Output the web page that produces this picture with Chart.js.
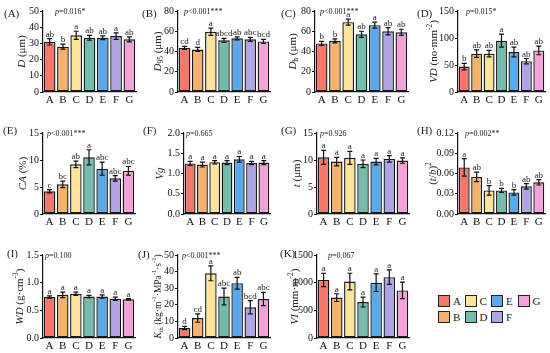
<!DOCTYPE html>
<html>
<head>
<meta charset="utf-8">
<script src="https://cdn.jsdelivr.net/npm/chart.js@4.4.1/dist/chart.umd.min.js"></script>
<style>
  body { margin: 0; background: #fff; width: 550px; height: 353px; position: relative; overflow: hidden; font-family: "Liberation Serif", serif; }
  canvas { position: absolute; }
  #legend { position: absolute; left: 438px; top: 295px; display: grid; grid-auto-flow: column;
            grid-template-rows: 12px 12px; row-gap: 4px; grid-template-columns: repeat(4, 26.5px); }
  .item { display: flex; align-items: center; font-size: 11px; color: #222; }
  .sw { box-sizing: border-box; width: 12px; height: 12px; border: 1.5px solid #222; margin-right: 3px; }
</style>
</head>
<body>
<div id="legend"></div>
<script>
const groups = ['A', 'B', 'C', 'D', 'E', 'F', 'G'];
const groupColors = ['#F4776B', '#F5B26C', '#FCE49C', '#72BDAB', '#5CA9E9', '#AFA4E4', '#F2A2D9'];

// (A) D
const dMean = [31, 28, 35, 33.5, 33.5, 34.5, 32.5];
const dErr = [2, 1.5, 2.5, 1.5, 1.2, 2, 1.5];
const dSig = ['ab', 'b', 'a', 'ab', 'ab', 'a', 'ab'];
// (B) D95
const d95Mean = [43.5, 42, 59.5, 51, 53, 52, 50];
const d95Err = [1.5, 2, 3.5, 2, 1.5, 2, 2];
const d95Sig = ['cd', 'd', 'a', 'abcd', 'ab', 'abc', 'bcd'];
// (C) Dh
const dhMean = [48, 50.5, 69, 57, 66, 60, 59];
const dhErr = [2, 2, 3, 3, 3, 3.5, 3];
const dhSig = ['b', 'b', 'a', 'ab', 'a', 'ab', 'ab'];
// (D) VD
const vdMean = [47, 71, 71, 95, 74, 57, 77];
const vdErr = [6, 7, 6, 12, 9, 5, 8];
const vdSig = ['b', 'ab', 'ab', 'a', 'ab', 'ab', 'ab'];
// (E) CA
const caMean = [4.2, 5.5, 9.2, 10.5, 8.4, 6.6, 8.0];
const caErr = [0.3, 0.6, 0.6, 1.4, 1.2, 0.5, 0.8];
const caSig = ['c', 'bc', 'ab', 'a', 'abc', 'abc', 'abc'];
// (F) Vg
const vgMean = [1.25, 1.22, 1.28, 1.27, 1.35, 1.26, 1.27];
const vgErr = [0.05, 0.06, 0.04, 0.05, 0.07, 0.04, 0.05];
const vgSig = ['a', 'a', 'a', 'a', 'a', 'a', 'a'];
// (G) t
const tMean = [10.5, 9.7, 10.4, 9.3, 9.7, 10.2, 9.9];
const tErr = [1.3, 0.8, 1.2, 0.7, 0.6, 0.6, 0.5];
const tSig = ['a', 'a', 'a', 'a', 'a', 'a', 'a'];
// (H) (t/b)^2
const tbMean = [0.069, 0.055, 0.035, 0.035, 0.032, 0.041, 0.047];
const tbErr = [0.013, 0.007, 0.007, 0.003, 0.004, 0.004, 0.004];
const tbSig = ['a', 'ab', 'b', 'b', 'b', 'ab', 'ab'];
// (I) WD
const wdMean = [0.74, 0.78, 0.80, 0.75, 0.75, 0.71, 0.70];
const wdErr = [0.02, 0.05, 0.03, 0.02, 0.03, 0.03, 0.01];
const wdSig = ['a', 'a', 'a', 'a', 'a', 'a', 'a'];
// (J) Kth
const kthMean = [6, 12, 39, 25, 33, 18.5, 23.5];
const kthErr = [1, 2.5, 4.5, 5, 3.5, 4, 4];
const kthSig = ['d', 'cd', 'a', 'abc', 'ab', 'bcd', 'abc'];
// (K) VI
const viMean = [1050, 730, 1020, 650, 1000, 1100, 860];
const viErr = [120, 70, 150, 90, 160, 130, 150];
const viSig = ['a', 'a', 'a', 'a', 'a', 'a', 'a'];

const pTexts = ['=0.016*', '<0.001***', '<0.001***', '=0.015*', '<0.001***', '=0.665',
                '=0.926', '=0.002**', '=0.100', '<0.001***', '=0.067'];

const panels = [
  { tag: '(A)', mean: dMean, err: dErr, sig: dSig, max: 50, step: 10, dec: 0,
    title: [['D', 'i'], [' (μm)']], L: 43, R: 136, T: 11, B: 92, titleDx: -21, tagDx: -39, tagDy: 3, pDx: 12, titleSize: 11 },
  { tag: '(B)', mean: d95Mean, err: d95Err, sig: d95Sig, max: 80, step: 20, dec: 0,
    title: [['D', 'i'], ['95', 'b'], [' (μm)']], L: 178, R: 270, T: 11, B: 92, titleDx: -20, tagDx: -36, tagDy: 3, pDx: 6, titleSize: 11 },
  { tag: '(C)', mean: dhMean, err: dhErr, sig: dhSig, max: 80, step: 20, dec: 0,
    title: [['D', 'i'], ['h', 'b'], [' (μm)']], L: 315, R: 408, T: 11, B: 92, titleDx: -22, tagDx: -34, tagDy: 3, pDx: 5, titleSize: 11 },
  { tag: '(D)', mean: vdMean, err: vdErr, sig: vdSig, max: 150, step: 50, dec: 0,
    title: [['VD', 'i'], [' (no·mm'], ['-2', 'p'], [')']], L: 458, R: 545, T: 11, B: 92, titleDx: -24, tagDx: -41, tagDy: 3, pDx: 8, titleSize: 11 },
  { tag: '(E)', mean: caMean, err: caErr, sig: caSig, max: 15, step: 5, dec: 0,
    title: [['CA', 'i'], [' (%)']], L: 43, R: 135, T: 133, B: 214, titleDx: -20, tagDx: -40, tagDy: -2, pDx: 4, titleSize: 11 },
  { tag: '(F)', mean: vgMean, err: vgErr, sig: vgSig, max: 2, step: 0.5, dec: 1,
    title: [['Vg', 'i']], L: 184, R: 270, T: 133, B: 214, titleDx: -24, tagDx: -41, tagDy: -2, pDx: 2, titleSize: 11 },
  { tag: '(G)', mean: tMean, err: tErr, sig: tSig, max: 15, step: 5, dec: 0,
    title: [['t', 'i'], [' (μm)']], L: 317, R: 409, T: 133, B: 214, titleDx: -20, tagDx: -36, tagDy: -2, pDx: 3, titleSize: 11 },
  { tag: '(H)', mean: tbMean, err: tbErr, sig: tbSig, max: 0.12, step: 0.03, dec: 2,
    title: [['('], ['t', 'i'], ['/'], ['b', 'i'], [')'], ['2', 'p']], L: 458, R: 545, T: 133, B: 214, titleDx: -25, tagDx: -41, tagDy: -2, pDx: 7, titleSize: 11 },
  { tag: '(I)', mean: wdMean, err: wdErr, sig: wdSig, max: 1.5, step: 0.5, dec: 1,
    title: [['WD', 'i'], [' (g·cm'], ['-3', 'p'], [')']], L: 43, R: 135, T: 255, B: 338, titleDx: -23, tagDx: -36, tagDy: -1, pDx: 2, titleSize: 11 },
  { tag: '(J)', mean: kthMean, err: kthErr, sig: kthSig, max: 50, step: 10, dec: 0,
    title: [['K', 'i'], ['th', 'b'], [' (kg·m'], ['-1', 'p'], ['·MPa'], ['-1', 'p'], ['·s'], ['-1', 'p'], [')']],
    L: 178, R: 270, T: 255, B: 338, titleDx: -20, tagDx: -40, tagDy: 0, pDx: 4, titleSize: 9.5 },
  { tag: '(K)', mean: viMean, err: viErr, sig: viSig, max: 1500, step: 500, dec: 0,
    title: [['VI', 'i'], [' (mm·m'], ['-2', 'p'], [')']], L: 317, R: 409, T: 255, B: 338, titleDx: -22, tagDx: -37, tagDy: -1, pDx: 11, titleSize: 11 }
];

const FONT = '"Liberation Serif", "DejaVu Serif", serif';

function segFont(seg, size) {
  const small = seg[1] === 'b' || seg[1] === 'p';
  return (seg[1] === 'i' ? 'italic ' : '') + (small ? size * 0.68 : size) + 'px ' + FONT;
}

// draws mixed italic / sub / sup text, centred or left-aligned at x
function drawRich(ctx, segs, x, y, size, align) {
  let w = 0;
  segs.forEach(s => { ctx.font = segFont(s, size); w += ctx.measureText(s[0]).width; });
  let cx = align === 'center' ? x - w / 2 : x;
  ctx.textAlign = 'left';
  segs.forEach(s => {
    ctx.font = segFont(s, size);
    const dy = s[1] === 'b' ? size * 0.3 : s[1] === 'p' ? -size * 0.38 : 0;
    ctx.fillText(s[0], cx, y + dy);
    cx += ctx.measureText(s[0]).width;
  });
}

function makeDecor(pn, pText) {
  return {
    id: 'decor',
    afterDatasetsDraw(chart) {
      const ctx = chart.ctx;
      const y = chart.scales.y;
      const area = chart.chartArea;
      const meta = chart.getDatasetMeta(0);
      ctx.save();
      ctx.strokeStyle = '#111';
      ctx.fillStyle = '#222';
      ctx.lineWidth = 1.2;
      meta.data.forEach((bar, i) => {
        const hi = y.getPixelForValue(pn.mean[i] + pn.err[i]);
        const lo = y.getPixelForValue(pn.mean[i] - pn.err[i]);
        ctx.beginPath();
        ctx.moveTo(bar.x, hi); ctx.lineTo(bar.x, lo);
        ctx.moveTo(bar.x - 2.5, hi); ctx.lineTo(bar.x + 2.5, hi);
        ctx.moveTo(bar.x - 2.5, lo); ctx.lineTo(bar.x + 2.5, lo);
        ctx.stroke();
        ctx.font = '9px ' + FONT;
        ctx.textAlign = 'center';
        ctx.textBaseline = 'alphabetic';
        ctx.fillText(pn.sig[i], bar.x, hi - 2);
      });

      // panel tag
      ctx.font = '11px ' + FONT;
      ctx.textAlign = 'left';
      ctx.textBaseline = 'middle';
      ctx.fillText(pn.tag, area.left + pn.tagDx, area.top + pn.tagDy);

      // p value
      ctx.textBaseline = 'middle';
      drawRich(ctx, [['p', 'i'], [pText]], area.left + pn.pDx, area.top + 1, 8, 'left');

      // y axis title
      ctx.translate(area.left + pn.titleDx, (area.top + area.bottom) / 2);
      ctx.rotate(-Math.PI / 2);
      ctx.textBaseline = 'middle';
      drawRich(ctx, pn.title, 0, 0, pn.titleSize, 'center');
      ctx.restore();
    }
  };
}

const PADL = 48, PADT = 12, XH = 16, PADR = 2;

panels.forEach((pn, k) => {
  const c = document.createElement('canvas');
  const w = pn.R - pn.L + PADL + PADR;
  const h = pn.B - pn.T + PADT + XH;
  c.width = w; c.height = h;
  c.style.width = w + 'px'; c.style.height = h + 'px';
  c.style.left = (pn.L - PADL) + 'px';
  c.style.top = (pn.T - PADT) + 'px';
  document.body.appendChild(c);

  new Chart(c, {
    type: 'bar',
    data: {
      labels: groups,
      datasets: [{
        data: pn.mean,
        backgroundColor: groupColors,
        borderColor: '#1a1a1a',
        borderWidth: 1.4,
        borderSkipped: false,
        barPercentage: 0.88,
        categoryPercentage: 1
      }]
    },
    options: {
      responsive: false,
      animation: false,
      devicePixelRatio: 1,
      layout: { padding: { top: PADT, left: 0, right: PADR, bottom: 0 } },
      plugins: { legend: { display: false }, tooltip: { enabled: false } },
      scales: {
        x: {
          grid: { display: false, drawTicks: false },
          border: { display: true, color: '#111', width: 1.2 },
          ticks: { color: '#111', font: { family: FONT, size: 11 }, padding: 2, maxRotation: 0 },
          afterFit: s => { s.height = XH; }
        },
        y: {
          min: 0,
          max: pn.max,
          ticks: { stepSize: pn.step, color: '#111', font: { family: FONT, size: 10 }, padding: 1,
                   callback: v => Number(v).toFixed(pn.dec) },
          grid: { display: true, drawOnChartArea: false, drawTicks: true, tickLength: 3, color: '#111', lineWidth: 1 },
          border: { display: true, color: '#111', width: 1.2 },
          afterFit: s => { s.width = PADL; }
        }
      }
    },
    plugins: [makeDecor(pn, pTexts[k])]
  });
});

// legend, column-major like the original
const legend = document.getElementById('legend');
groups.forEach((g, i) => {
  const item = document.createElement('div');
  item.className = 'item';
  const sw = document.createElement('span');
  sw.className = 'sw';
  sw.style.background = groupColors[i];
  item.appendChild(sw);
  item.appendChild(document.createTextNode(g));
  legend.appendChild(item);
});
</script>
</body>
</html>
